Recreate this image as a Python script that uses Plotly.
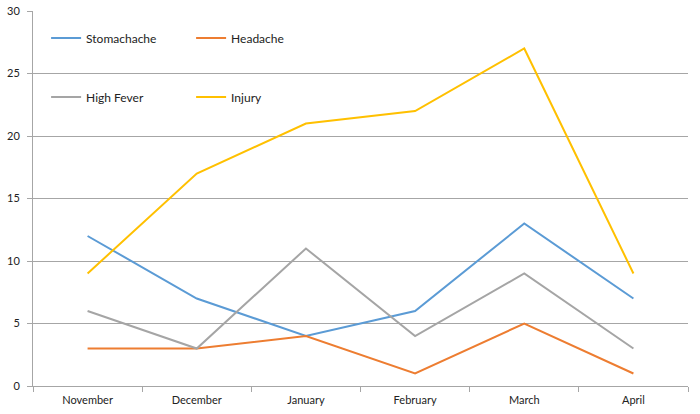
import plotly.graph_objects as go

months = ["November", "December", "January", "February", "March", "April"]
stomachache = [12, 7, 4, 6, 13, 7]
headache = [3, 3, 4, 1, 5, 1]
high_fever = [6, 3, 11, 4, 9, 3]
injury = [9, 17, 21, 22, 27, 9]

series = [
    ("Stomachache", stomachache, "#5B9BD5", "legend"),
    ("Headache", headache, "#ED7D31", "legend"),
    ("High Fever", high_fever, "#A5A5A5", "legend2"),
    ("Injury", injury, "#FFC000", "legend2"),
]

fig = go.Figure()
for name, vals, color, lg in series:
    fig.add_trace(go.Scatter(x=months, y=vals, name=name, mode="lines",
                             line=dict(color=color, width=2), legend=lg))

lfont = dict(family="Lato, Open Sans, sans-serif", size=12, color="#222222")
fig.update_layout(
    width=700, height=414,
    margin=dict(l=33, r=12, t=11, b=28, autoexpand=False),
    plot_bgcolor="white", paper_bgcolor="white",
    font=dict(family="Lato, Open Sans, sans-serif", size=11, color="#222222"),
    legend=dict(orientation="h", x=0.02, y=0.928, xanchor="left", yanchor="middle",
                entrywidth=100, itemwidth=30, bgcolor="rgba(0,0,0,0)", font=lfont),
    legend2=dict(orientation="h", x=0.02, y=0.771, xanchor="left", yanchor="middle",
                 entrywidth=100, itemwidth=30, bgcolor="rgba(0,0,0,0)", font=lfont),
    xaxis=dict(type="category", range=[-0.5, 5.5], showgrid=False, showline=True,
               linecolor="#A6A6A6", linewidth=1, ticks="outside", tickson="boundaries",
               ticklen=5, tickcolor="#A6A6A6", tickfont=dict(size=11), automargin=False,
               ticklabelstandoff=4),
    yaxis=dict(range=[0, 30], dtick=5, showgrid=True, gridcolor="#A6A6A6", gridwidth=1,
               showline=True, linecolor="#A6A6A6", linewidth=1, ticks="outside",
               ticklen=5, tickcolor="#A6A6A6", zeroline=False, tickfont=dict(size=11),
               automargin=False, ticklabelstandoff=5),
)

fig.write_html("out.html")
